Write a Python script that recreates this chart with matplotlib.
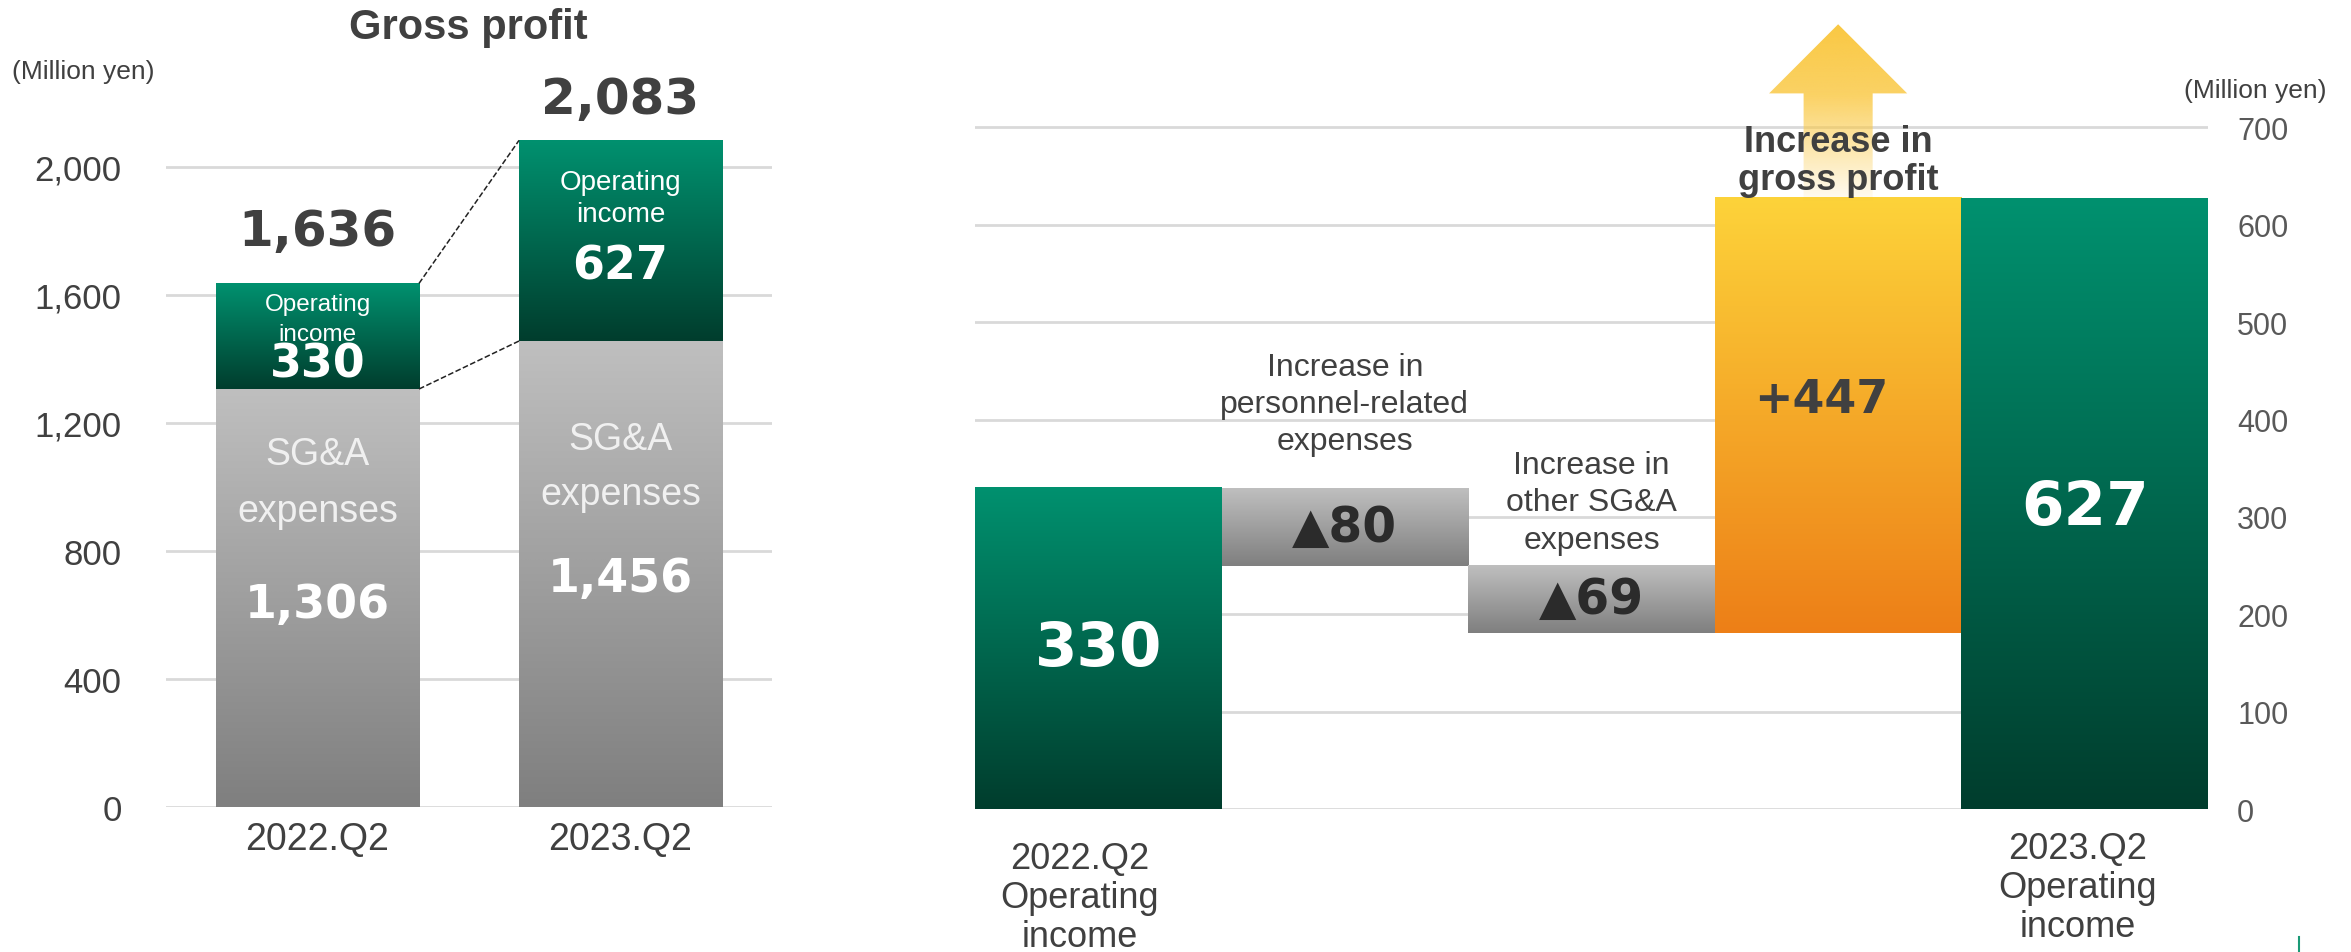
import numpy as np
import matplotlib.pyplot as plt
from matplotlib.colors import LinearSegmentedColormap
from matplotlib.patches import Polygon
from matplotlib.lines import Line2D

# Left panel: gross profit split into SG&A expenses and operating income
quarters = ['2022.Q2', '2023.Q2']
sga_expenses = [1306, 1456]
operating_income = [330, 627]
gross_profit = [s + o for s, o in zip(sga_expenses, operating_income)]
left_ticks = [0, 400, 800, 1200, 1600, 2000]

# Right panel: operating income bridge
bridge_start = 330
personnel_increase = 80
other_sga_increase = 69
gross_profit_increase = 447
bridge_end = 627
bridge_labels = ['2022.Q2\nOperating\nincome',
                 'Increase in\npersonnel-related\nexpenses',
                 'Increase in\nother SG&A\nexpenses',
                 'Increase in\ngross profit',
                 '2023.Q2\nOperating\nincome']
right_ticks = [0, 100, 200, 300, 400, 500, 600, 700]

plt.rcParams['font.family'] = ['Liberation Sans', 'DejaVu Sans']
NUM = ['DejaVu Sans']
DARK = '#404040'

GREEN = ('#00916f', '#003d2d')
GRAY = ('#bfbfbf', '#7f7f7f')
ORANGE = ('#fdd33a', '#ed7f17')


def fill_gradient(ax, bar, colors, z=2):
    top, bottom = colors
    x0, w = bar.get_x(), bar.get_width()
    y0, h = bar.get_y(), bar.get_height()
    cmap = LinearSegmentedColormap.from_list('grad', [bottom, top])
    ax.imshow(np.linspace(0, 1, 256).reshape(-1, 1), cmap=cmap, origin='lower',
              extent=(x0, x0 + w, y0, y0 + h), aspect='auto',
              interpolation='bicubic', zorder=z)
    bar.set_visible(False)


fig = plt.figure(figsize=(23.51, 9.53), dpi=100)

# ---------------- left: stacked bars ----------------
ax = fig.add_axes([0.0706, 0.1522, 0.2578, 0.8395])
x = np.arange(len(quarters))
w = 0.67
b_sga = ax.bar(x, sga_expenses, width=w)
b_op = ax.bar(x, operating_income, bottom=sga_expenses, width=w)
for b in b_sga:
    fill_gradient(ax, b, GRAY)
for b in b_op:
    fill_gradient(ax, b, GREEN)

# dashed connectors between the two bars
ax.plot([x[0] + w / 2, x[1] - w / 2], gross_profit, ls='--', color='#222222', lw=1.1, zorder=3)
ax.plot([x[0] + w / 2, x[1] - w / 2], sga_expenses, ls='--', color='#222222', lw=1.1, zorder=3)

ax.set_xlim(-0.5, 1.5)
ax.set_ylim(0, 2500)
ax.set_yticks(left_ticks)
ax.set_yticklabels([f'{t:,}' for t in left_ticks])
ax.set_xticks(x)
ax.set_xticklabels(quarters)
ax.tick_params(axis='y', length=0, pad=32, labelsize=25, labelcolor=DARK)
ax.tick_params(axis='x', length=0, pad=10, labelsize=27, labelcolor=DARK)
ax.yaxis.grid(True, color='#d9d9d9', lw=2)
ax.set_axisbelow(True)
for s in ax.spines.values():
    s.set_visible(False)

# totals above bars
total_offsets = [164, 128]
for i, g in enumerate(gross_profit):
    ax.text(x[i], g + total_offsets[i], f'{g:,}', ha='center', va='center',
            fontsize=36, fontweight='bold', family=NUM, color=DARK)

# operating income labels (offsets from segment top)
op_offsets = [(64, 158, 252), (130, 230, 392)]
op_sizes = [17.5, 20]
for i, o in enumerate(operating_income):
    top = gross_profit[i]
    d1, d2, d3 = op_offsets[i]
    ax.text(x[i], top - d1, 'Operating', ha='center', va='center', color='white', fontsize=op_sizes[i])
    ax.text(x[i], top - d2, 'income', ha='center', va='center', color='white', fontsize=op_sizes[i])
    ax.text(x[i], top - d3, f'{o:,}', ha='center', va='center', color='white',
            fontsize=33, fontweight='bold', family=NUM)

# SG&A labels
sga_offsets = [(203, 381, 672), (306, 478, 742)]
for i, s in enumerate(sga_expenses):
    d1, d2, d3 = sga_offsets[i]
    ax.text(x[i], s - d1, 'SG&A', ha='center', va='center', color='#f0f0f0', fontsize=27)
    ax.text(x[i], s - d2, 'expenses', ha='center', va='center', color='#f0f0f0', fontsize=27)
    ax.text(x[i], s - d3, f'{s:,}', ha='center', va='center', color='white',
            fontsize=33, fontweight='bold', family=NUM)

fig.text(83 / 2351, 1 - 72 / 953, '(Million yen)', ha='center', va='center', fontsize=19, color=DARK)
fig.text(468 / 2351, 1 - 28 / 953, 'Gross profit', ha='center', va='center',
         fontsize=30, fontweight='bold', color=DARK)

# ---------------- right: bridge ----------------
ax2 = fig.add_axes([0.4147, 0.150, 0.5245, 0.848])
after_personnel = bridge_start - personnel_increase
after_other = after_personnel - other_sga_increase
heights = [bridge_start, personnel_increase, other_sga_increase, gross_profit_increase, bridge_end]
bottoms = [0, after_personnel, after_other, after_other, 0]
fills = [GREEN, GRAY, GRAY, ORANGE, GREEN]
bars = ax2.bar(range(5), heights, bottom=bottoms, width=1.0)
for b, c in zip(bars, fills):
    fill_gradient(ax2, b, c)

ax2.set_xlim(-0.5, 4.5)
ax2.set_ylim(0, 830)
ax2.set_xticks([])
ax2.set_yticks(right_ticks)
ax2.yaxis.tick_right()
ax2.tick_params(axis='y', length=0, pad=21, labelsize=22, labelcolor='#595959')
for lab in ax2.get_yticklabels():
    lab.set_horizontalalignment('left')
ax2.yaxis.grid(True, color='#d9d9d9', lw=2)
ax2.set_axisbelow(True)
for s in ax2.spines.values():
    s.set_visible(False)

# values inside the bars
ax2.text(0, bridge_start / 2, f'{bridge_start}', ha='center', va='center', color='white',
         fontsize=44, fontweight='bold', family=NUM)
ax2.text(4, bridge_end / 2 - 4, f'{bridge_end}', ha='center', va='center', color='white',
         fontsize=44, fontweight='bold', family=NUM)
ax2.text(1, after_personnel + personnel_increase / 2, f'▲{personnel_increase}', ha='center', va='center',
         color='#2b2b2b', fontsize=35, fontweight='bold', family=NUM)
ax2.text(2, after_other + other_sga_increase / 2, f'▲{other_sga_increase}', ha='center', va='center',
         color='#2b2b2b', fontsize=35, fontweight='bold', family=NUM)
ax2.text(3 - 0.07, after_other + gross_profit_increase / 2 + 16, f'+{gross_profit_increase}',
         ha='center', va='center', color=DARK, fontsize=33, fontweight='bold', family=NUM)

# arrow above the gross profit bar
top4 = after_other + gross_profit_increase
cx, head_w, shaft_w = 3, 0.28, 0.14
tip, head_base, shaft_bot = 806, 735, top4 - 3
arrow = Polygon([(cx - shaft_w, shaft_bot), (cx - shaft_w, head_base), (cx - head_w, head_base),
                 (cx, tip), (cx + head_w, head_base), (cx + shaft_w, head_base),
                 (cx + shaft_w, shaft_bot)], closed=True, facecolor='none', edgecolor='none')
ax2.add_patch(arrow)
yy = np.linspace(0, 1, 256)
alpha = np.interp(yy, [0, 0.6, 1], [0.06, 0.82, 1.0])
rgba = np.zeros((256, 1, 4))
rgba[..., 0] = 250 / 255
rgba[..., 1] = 200 / 255
rgba[..., 2] = 66 / 255
rgba[:, 0, 3] = alpha
im = ax2.imshow(rgba, origin='lower', extent=(cx - head_w, cx + head_w, shaft_bot, tip),
                aspect='auto', zorder=3)
im.set_clip_path(arrow)
im.set_clip_on(True)

ax2.text(3, 666, bridge_labels[3], ha='center', va='center', color=DARK, fontsize=26,
         fontweight='bold', linespacing=1.12, zorder=5)
ax2.text(1, bridge_start + 86, bridge_labels[1], ha='center', va='center', color=DARK,
         fontsize=23, linespacing=1.32)
ax2.text(2, after_personnel + 65, bridge_labels[2], ha='center', va='center', color=DARK,
         fontsize=23, linespacing=1.32)
ax2.text(0 - 0.075, -91, bridge_labels[0], ha='center', va='center', color=DARK,
         fontsize=26, linespacing=1.15, clip_on=False)
ax2.text(4 - 0.03, -81, bridge_labels[4], ha='center', va='center', color=DARK,
         fontsize=26, linespacing=1.15, clip_on=False)

fig.text(2255 / 2351, 1 - 91 / 953, '(Million yen)', ha='center', va='center', fontsize=19, color=DARK)
fig.add_artist(Line2D([2299 / 2351, 2299 / 2351], [0, 15 / 953], color='#1a9a76', lw=1.5))

fig.savefig('out.png', dpi=100)
